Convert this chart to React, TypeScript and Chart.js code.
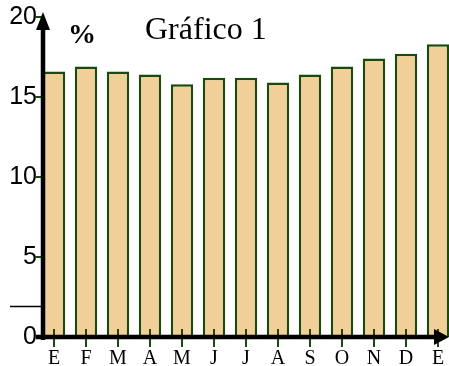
import React, { useEffect, useRef } from "react";
import { Chart, registerables } from "chart.js";

Chart.register(...registerables);

// ---- data ----
const months = ["E", "F", "M", "A", "M", "J", "J", "A", "S", "O", "N", "D", "E"];
const values = [16.6, 16.9, 16.6, 16.4, 15.8, 16.2, 16.2, 15.9, 16.4, 16.9, 17.4, 17.7, 18.3];
const yTickValues = [0, 5, 10, 15, 20];
const titleText = "Gráfico 1";
const unitText = "%";

// ---- style ----
const barFill = "#f2cf96";
const barBorder = "#1b4a0e";
const tickGreen = "#1b4a0e";

const arrowAxesPlugin = {
  id: "arrowAxes",
  afterDraw(chart: any) {
    const { ctx, chartArea, scales } = chart;
    const xs = scales.x;
    const ys = scales.y;
    const y0 = ys.getPixelForValue(0);
    const axisX = chartArea.left + 5;
    const line = (x1: number, y1: number, x2: number, y2: number) => {
      ctx.beginPath();
      ctx.moveTo(x1, y1);
      ctx.lineTo(x2, y2);
      ctx.stroke();
    };
    ctx.save();
    // green tick marks on y axis
    ctx.strokeStyle = tickGreen;
    ctx.lineWidth = 2;
    yTickValues.forEach((v) => {
      const py = ys.getPixelForValue(v);
      line(axisX - 8, py, axisX, py);
    });
    // green tick marks on x axis
    months.forEach((_, i) => {
      const px = xs.getPixelForValue(i);
      line(px, y0 - 8, px, y0 + 10);
    });
    // stray short line at left
    ctx.strokeStyle = "#000";
    ctx.lineWidth = 1.5;
    const sy = ys.getPixelForValue(1.9);
    line(10, sy, axisX, sy);
    // axes
    ctx.lineWidth = 4.5;
    line(axisX, y0 + 3, axisX, chartArea.top + 8);
    line(axisX - 7, y0, chartArea.right - 16, y0);
    ctx.fillStyle = "#000";
    // y arrow head
    ctx.beginPath();
    ctx.moveTo(axisX, chartArea.top - 5);
    ctx.lineTo(axisX - 7, chartArea.top + 13);
    ctx.lineTo(axisX + 7, chartArea.top + 13);
    ctx.closePath();
    ctx.fill();
    // x arrow head
    const tip = chartArea.right - 5;
    ctx.beginPath();
    ctx.moveTo(tip, y0);
    ctx.lineTo(tip - 15, y0 - 8);
    ctx.lineTo(tip - 15, y0 + 8);
    ctx.closePath();
    ctx.fill();
    ctx.restore();
  },
};

export default function App() {
  const canvasRef = useRef<HTMLCanvasElement | null>(null);

  useEffect(() => {
    const canvas = canvasRef.current;
    if (!canvas) return;
    const chart = new Chart(canvas, {
      type: "bar",
      data: {
        labels: months,
        datasets: [
          {
            data: values,
            backgroundColor: barFill,
            borderColor: barBorder,
            borderWidth: 2.5,
            barPercentage: 0.7,
            categoryPercentage: 1.0,
          },
        ],
      },
      options: {
        responsive: false,
        animation: false,
        layout: { padding: { top: 17, right: 2, left: 0, bottom: 0 } },
        plugins: {
          legend: { display: false },
          tooltip: { enabled: false },
          title: { display: false },
        },
        scales: {
          x: {
            grid: { display: false, drawTicks: false },
            border: { display: false },
            ticks: {
              color: "#000",
              padding: 10,
              font: { family: "'Liberation Serif', serif", size: 20 },
              maxRotation: 0,
              autoSkip: false,
            },
            afterFit(scale: any) {
              scale.height = 29;
            },
          },
          y: {
            min: 0,
            max: 20,
            grid: { display: false, drawTicks: false },
            border: { display: false },
            afterBuildTicks(scale: any) {
              scale.ticks = yTickValues.map((v) => ({ value: v }));
            },
            ticks: {
              color: "#000",
              padding: 1,
              font: { family: "'Liberation Sans', Arial, sans-serif", size: 25 },
            },
            afterFit(scale: any) {
              scale.width = 38;
            },
          },
        },
      },
      plugins: [arrowAxesPlugin],
    });
    return () => chart.destroy();
  }, []);

  return (
    <div
      style={{
        position: "absolute",
        left: 0,
        top: 0,
        width: 449,
        height: 366,
        overflow: "hidden",
        background: "#fff",
      }}
    >
      <canvas ref={canvasRef} width={456} height={366} style={{ display: "block" }} />
      <span
        style={{
          position: "absolute",
          left: 68,
          top: 20,
          fontFamily: "'Liberation Serif', serif",
          fontWeight: "bold",
          fontSize: 28,
          lineHeight: "28px",
          color: "#000",
          whiteSpace: "nowrap",
        }}
      >
        {unitText}
      </span>
      <span
        style={{
          position: "absolute",
          left: 145,
          top: 12,
          fontFamily: "'Liberation Serif', serif",
          fontSize: 32,
          lineHeight: "32px",
          color: "#000",
          whiteSpace: "nowrap",
        }}
      >
        {titleText}
      </span>
    </div>
  );
}
